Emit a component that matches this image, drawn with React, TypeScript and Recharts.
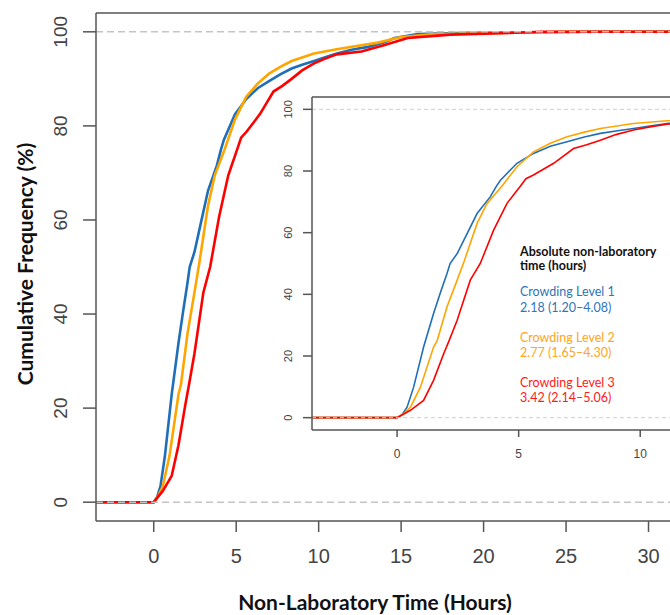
import { Line, LineChart, ReferenceLine, XAxis, YAxis } from "recharts";

// empirical cumulative frequency (%) against non-laboratory time (hours)
const level1X = [-3.5, 0, 0.2, 0.41, 0.68, 1.09, 1.5, 1.8, 2.05, 2.18, 2.47, 2.88, 3.29, 3.83, 4.08, 4.25, 4.93, 5.61, 6.3, 6.99, 7.7, 8.36, 9.0, 9.72, 10.4, 11.1, 12, 13, 14, 14.6, 16, 19, 24, 27, 33];
const level1Y = [0, 0, 1, 3.4, 9.9, 22.9, 33.8, 41, 46.7, 50, 53.2, 59.7, 66.2, 71.6, 75, 77, 82.5, 85.7, 88, 89.5, 91, 92.2, 93, 93.8, 94.6, 95.4, 96.2, 96.8, 97.8, 98.7, 99.5, 99.8, 99.9, 100, 100];

const level2X = [-3.5, 0, 0.3, 0.55, 0.96, 1.5, 1.65, 2.05, 2.47, 2.77, 3.29, 3.7, 4.3, 4.93, 5.61, 6.3, 6.99, 7.7, 8.36, 9.72, 11.1, 12.3, 13.6, 15, 17, 20, 25, 33];
const level2Y = [0, 0, 1.5, 3.4, 9.9, 22.9, 25, 35.9, 44.6, 51, 63, 69.5, 75, 81.4, 86.2, 89, 91.1, 92.6, 93.8, 95.4, 96.3, 97, 97.7, 98.9, 99.5, 99.7, 100, 100];

const level3X = [-3.5, 0, 0.55, 1.09, 1.5, 1.92, 2.14, 2.47, 3.01, 3.42, 3.97, 4.52, 5.06, 5.3, 5.61, 6.44, 7.26, 7.8, 8.36, 9.0, 9.72, 10.4, 11.1, 12.6, 14, 15.4, 18, 21.9, 23.5, 33];
const level3Y = [0, 0, 2.4, 5.6, 12.1, 20.8, 25, 31.6, 44.6, 50, 60.8, 69.5, 75, 77.5, 78.7, 82.5, 87.3, 88.5, 90, 91.8, 93.3, 94.3, 95.2, 95.8, 97.2, 98.7, 99.4, 99.8, 100, 100];

const mainXTicks = [0, 5, 10, 15, 20, 25, 30];
const insetXTicks = [0, 5, 10];
const yTicks = [0, 20, 40, 60, 80, 100];

const legendLines = [
  { text: "Absolute non-laboratory", color: "#111", bold: true, top: 244 },
  { text: "time (hours)", color: "#111", bold: true, top: 258 },
  { text: "Crowding Level 1", color: "#2e75b6", bold: false, top: 284 },
  { text: "2.18 (1.20\u20134.08)", color: "#2e75b6", bold: false, top: 300 },
  { text: "Crowding Level 2", color: "#ffa520", bold: false, top: 330 },
  { text: "2.77 (1.65\u20134.30)", color: "#ffa520", bold: false, top: 345 },
  { text: "Crowding Level 3", color: "#ff1a1a", bold: false, top: 375 },
  { text: "3.42 (2.14\u20135.06)", color: "#ff1a1a", bold: false, top: 390 },
];

const zip = (xs: number[], ys: number[]) => xs.map((x, i) => ({ x, y: ys[i] }));
const series = [
  { name: "Crowding Level 1", data: zip(level1X, level1Y), color: "#1f6fb8" },
  { name: "Crowding Level 2", data: zip(level2X, level2Y), color: "#ffa500" },
  { name: "Crowding Level 3", data: zip(level3X, level3Y), color: "#ff0000" },
];

const AXIS = "#555";
const TICK_FONT = "'Liberation Sans', Arial, sans-serif";
const TITLE_FONT = "Lato, 'Open Sans', sans-serif";

function RotatedTick(props: any) {
  const { x, y, payload, shift, size } = props;
  return (
    <g transform={`translate(${x - shift},${y}) rotate(-90)`}>
      <text textAnchor="middle" dy="0.36em" fill="#444" fontSize={size} fontFamily={TICK_FONT}>
        {payload.value}
      </text>
    </g>
  );
}

function Panel({
  width, height, margin, xDomain, xTicks, yAxisWidth, xAxisHeight, tickSize, xTickMargin,
  xFont, yFont, yShift, lineWidth, dash, dashColor,
}: any) {
  return (
    <LineChart width={width} height={height} margin={margin}>
      <XAxis
        type="number"
        dataKey="x"
        domain={xDomain}
        ticks={xTicks}
        allowDataOverflow
        height={xAxisHeight}
        tickSize={tickSize}
        tickMargin={xTickMargin}
        axisLine={{ stroke: AXIS, strokeWidth: 1.5 }}
        tickLine={{ stroke: AXIS, strokeWidth: 1.5 }}
        tick={{ fill: "#444", fontSize: xFont, fontFamily: TICK_FONT }}
      />
      <YAxis
        type="number"
        domain={[-4, 104]}
        ticks={yTicks}
        allowDataOverflow
        width={yAxisWidth}
        tickSize={tickSize + 2}
        axisLine={{ stroke: AXIS, strokeWidth: 1.5 }}
        tickLine={{ stroke: AXIS, strokeWidth: 1.5 }}
        tick={(p: any) => <RotatedTick {...p} shift={yShift} size={yFont} />}
      />
      <ReferenceLine y={104} stroke={AXIS} strokeWidth={1.5} />
      {series.map((s) => (
        <Line
          key={s.name}
          data={s.data}
          dataKey="y"
          name={s.name}
          type="linear"
          stroke={s.color}
          strokeWidth={lineWidth}
          dot={false}
          isAnimationActive={false}
        />
      ))}
      <ReferenceLine y={0} stroke={dashColor} strokeDasharray={dash} strokeWidth={lineWidth > 2 ? 1.5 : 1} />
      <ReferenceLine y={100} stroke={dashColor} strokeDasharray={dash} strokeWidth={lineWidth > 2 ? 1.5 : 1} />
    </LineChart>
  );
}

export default function App() {
  return (
    <div style={{ position: "fixed", left: 0, top: 0, width: 670, height: 615, overflow: "hidden", background: "#fff" }}>
      <div style={{ position: "absolute", left: 0, top: 0 }}>
        <Panel
          width={720}
          height={615}
          margin={{ top: 13, right: 22, left: 0, bottom: 0 }}
          xDomain={[-3.5, 33]}
          xTicks={mainXTicks}
          yAxisWidth={96}
          xAxisHeight={94}
          tickSize={11}
          xTickMargin={17}
          xFont={20}
          yFont={19}
          yShift={20.5}
          lineWidth={2.6}
          dash="7 4"
          dashColor="#c4c4c4"
        />
      </div>
      <div style={{ position: "absolute", left: 312, top: 97, width: 400, height: 333, background: "#fff" }} />
      <div style={{ position: "absolute", left: 262, top: 84 }}>
        <Panel
          width={460}
          height={390}
          margin={{ top: 13, right: 21, left: 0, bottom: 0 }}
          xDomain={[-3.5, 12.5]}
          xTicks={insetXTicks}
          yAxisWidth={50}
          xAxisHeight={44}
          tickSize={7}
          xTickMargin={12}
          xFont={12}
          yFont={11}
          yShift={13}
          lineWidth={1.6}
          dash="4 3"
          dashColor="#cfcfcf"
        />
      </div>
      {legendLines.map((l) => (
        <div
          key={l.text}
          style={{
            position: "absolute",
            left: 520,
            top: l.top,
            color: l.color,
            fontWeight: l.bold ? 700 : 400,
            fontSize: 12.5,
            lineHeight: "15px",
            fontFamily: TITLE_FONT,
            whiteSpace: "nowrap",
          }}
        >
          {l.text}
        </div>
      ))}
      <div
        style={{
          position: "absolute",
          left: 24,
          top: 264,
          transform: "translate(-50%, -50%) rotate(-90deg)",
          fontFamily: TITLE_FONT,
          fontWeight: 700,
          fontSize: 21,
          lineHeight: "25px",
          whiteSpace: "nowrap",
          color: "#111",
        }}
      >
        Cumulative Frequency (%)
      </div>
      <div
        style={{
          position: "absolute",
          left: 375,
          top: 589,
          transform: "translateX(-50%)",
          fontFamily: TITLE_FONT,
          fontWeight: 700,
          fontSize: 21,
          lineHeight: "25px",
          whiteSpace: "nowrap",
          color: "#111",
        }}
      >
        Non-Laboratory Time (Hours)
      </div>
    </div>
  );
}
